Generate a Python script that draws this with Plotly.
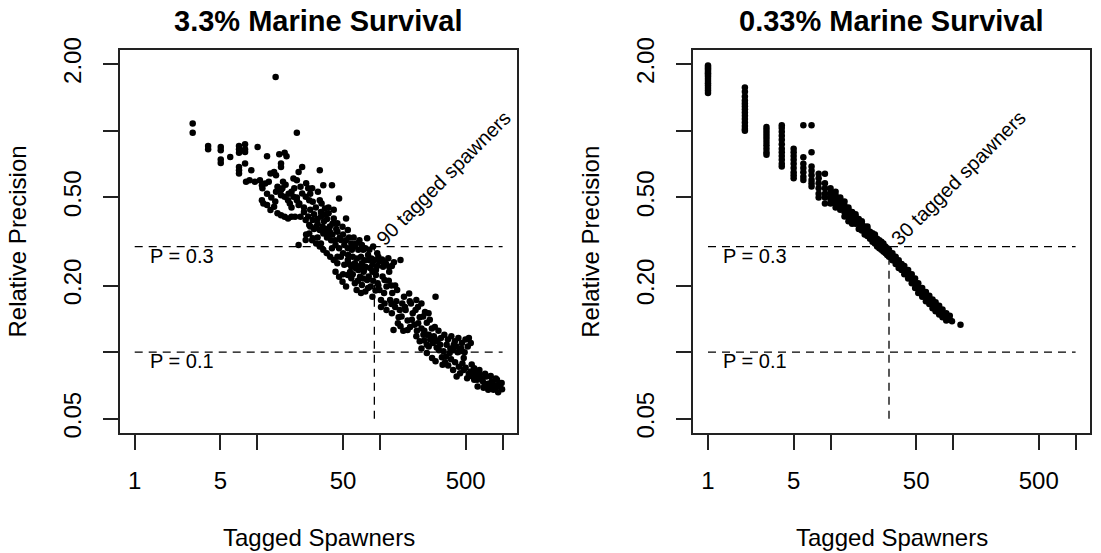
import math
import plotly.graph_objects as go

# ---------------- data ----------------
# 3.3% marine survival: (tagged spawners, relative precision)
s33_pts = [
    (2.97, 1.08), (2.97, 0.98), (14.1, 1.75), (21.0, 0.98),
    (3.97, 0.854), (3.97, 0.826), (5.03, 0.846), (5.03, 0.817), (7.09, 0.854), (7.09, 0.826),
    (7.94, 0.87), (7.94, 0.826), (10.05, 0.846), (5.03, 0.742), (5.03, 0.716), (6.01, 0.762),
    (7.09, 0.795), (7.94, 0.803), (12.0, 0.768), (15.1, 0.784), (16.7, 0.795), (17.3, 0.768),
    (15.6, 0.711), (7.09, 0.687), (7.09, 0.664), (7.09, 0.641), (7.94, 0.711), (8.93, 0.664),
    (8.09, 0.588), (8.64, 0.598), (9.55, 0.588), (10.5, 0.598), (10.9, 0.568), (11.6, 0.578),
    (12.4, 0.588), (12.8, 0.641), (13.7, 0.652), (14.2, 0.630), (15.6, 0.687), (16.2, 0.588),
    (14.6, 0.559), (15.6, 0.540), (23.2, 0.687), (32.3, 0.664), (21.7, 0.652), (19.7, 0.609),
    (21.0, 0.598), (10.9, 0.486), (11.2, 0.470), (12.0, 0.462), (12.8, 0.439), (13.7, 0.454),
    (14.6, 0.424), (15.6, 0.416), (16.7, 0.409), (17.8, 0.402), (19.0, 0.409), (20.3, 0.409),
    (14.2, 0.530), (15.6, 0.512), (16.7, 0.504), (17.8, 0.486), (18.4, 0.470), (19.0, 0.530),
    (19.7, 0.504), (21.0, 0.486), (21.7, 0.462), (22.5, 0.559), (23.2, 0.521), (24.8, 0.504),
    (26.5, 0.486), (28.3, 0.478), (34.5, 0.568), (40.6, 0.568), (46.4, 0.495), (31.2, 0.530),
    (32.3, 0.486), (33.4, 0.470), (35.6, 0.446), (38.1, 0.424), (22.5, 0.409), (24.8, 0.395),
    (26.5, 0.375), (28.3, 0.395), (30.2, 0.369), (32.3, 0.356), (34.5, 0.344), (38.1, 0.338),
    (42.0, 0.402), (44.9, 0.382), (49.5, 0.369), (52.9, 0.402), (54.7, 0.356),
    (21.7, 0.305), (24.8, 0.321), (26.5, 0.344), (28.3, 0.327), (30.2, 0.310), (32.3, 0.300),
    (34.5, 0.290), (36.8, 0.280), (39.3, 0.270), (40.6, 0.295), (43.4, 0.305), (46.4, 0.295),
    (48.0, 0.321), (51.2, 0.305), (54.7, 0.295), (58.4, 0.310), (62.4, 0.300), (66.6, 0.290),
    (71.2, 0.305), (76.0, 0.295), (78.6, 0.327), (42.0, 0.261), (44.9, 0.252), (48.0, 0.270),
    (51.2, 0.248), (54.7, 0.261), (58.4, 0.243), (62.4, 0.252), (66.6, 0.235), (71.2, 0.252),
    (76.0, 0.243), (81.2, 0.261), (86.8, 0.248), (92.7, 0.235), (99.0, 0.257), (106, 0.243),
    (117, 0.266), (119, 0.243), (119, 0.231), (147, 0.261),
    (43.4, 0.231), (46.4, 0.219), (49.5, 0.208), (52.9, 0.198), (54.7, 0.223), (58.4, 0.216),
    (62.4, 0.205), (64.5, 0.191), (68.8, 0.219), (71.2, 0.201), (76.0, 0.188), (78.6, 0.212),
    (84.0, 0.198), (86.8, 0.178), (92.7, 0.223), (95.8, 0.205), (99.0, 0.191), (102, 0.172),
    (109, 0.212), (113, 0.198), (86.8, 0.231), (73.6, 0.231),
    (102, 0.160), (109, 0.166), (113, 0.155), (121, 0.172), (125, 0.150), (133, 0.160),
    (138, 0.191), (142, 0.144), (152, 0.166), (157, 0.178), (162, 0.155), (168, 0.139),
    (173, 0.184), (179, 0.166), (185, 0.150), (198, 0.172), (204, 0.160), (211, 0.144),
    (218, 0.166), (233, 0.152), (241, 0.136), (129, 0.126), (147, 0.131), (168, 0.126),
    (191, 0.133), (218, 0.128), (249, 0.150), (284, 0.178),
    (198, 0.118), (211, 0.112), (226, 0.120), (241, 0.108), (257, 0.114), (275, 0.118),
    (294, 0.112), (314, 0.116), (335, 0.120), (358, 0.114), (382, 0.118), (408, 0.112),
    (436, 0.116), (466, 0.110), (498, 0.114), (531, 0.116),
    (218, 0.104), (241, 0.0992), (266, 0.0941), (284, 0.0909), (303, 0.102), (324, 0.0877),
    (346, 0.0957), (370, 0.0992), (395, 0.102), (422, 0.106), (450, 0.101), (482, 0.0941),
    (395, 0.0832), (422, 0.0776), (450, 0.0804), (482, 0.0832), (514, 0.0763), (549, 0.0818),
    (587, 0.0750), (606, 0.0790), (626, 0.0700), (669, 0.0763), (715, 0.0712), (739, 0.0776),
    (789, 0.0700), (815, 0.0737), (871, 0.0688), (900, 0.0750), (930, 0.0712), (982, 0.0725),
    (843, 0.0676), (764, 0.0676), (647, 0.0832), (587, 0.0847),
    # denser core of the cloud
    (36, 0.36), (37, 0.33), (39, 0.35), (41, 0.34), (43, 0.32), (45, 0.35), (47, 0.33),
    (50, 0.34), (53, 0.32), (56, 0.33), (59, 0.29), (61, 0.33), (64, 0.31), (68, 0.32),
    (73, 0.29), (82, 0.29), (88, 0.30), (95, 0.28),
    (45, 0.27), (50, 0.28), (55, 0.275), (60, 0.27), (65, 0.265), (70, 0.27), (75, 0.26),
    (80, 0.275), (85, 0.265), (90, 0.26), (97, 0.27), (104, 0.262), (110, 0.255), (56, 0.25),
    (63, 0.24), (69, 0.245), (74, 0.235), (83, 0.24), (95, 0.245), (112, 0.25), (125, 0.245),
    (130, 0.255),
    (50, 0.225), (57, 0.23), (60, 0.225), (66, 0.21), (73, 0.215), (81, 0.22), (88, 0.21),
    (97, 0.2), (105, 0.22), (118, 0.21), (124, 0.2), (108, 0.185), (92, 0.19), (80, 0.195),
    (70, 0.185), (126, 0.185), (133, 0.2),
    (124, 0.165), (136, 0.17), (145, 0.155), (150, 0.145), (160, 0.16), (175, 0.17),
    (182, 0.14), (195, 0.155), (205, 0.135), (225, 0.145), (230, 0.125), (255, 0.14),
    (265, 0.128), (140, 0.135), (155, 0.125), (176, 0.13), (200, 0.125), (240, 0.12),
    (280, 0.13), (300, 0.125),
    (230, 0.113), (250, 0.106), (270, 0.11), (290, 0.105), (310, 0.108), (330, 0.101),
    (350, 0.108), (375, 0.104), (400, 0.108), (430, 0.1), (460, 0.104), (490, 0.1),
    (520, 0.106), (550, 0.11), (250, 0.12), (280, 0.115),
    (320, 0.095), (340, 0.09), (360, 0.087), (380, 0.093), (410, 0.09), (440, 0.086),
    (470, 0.089), (500, 0.085), (530, 0.08), (560, 0.078), (600, 0.082), (650, 0.079),
    (690, 0.074), (720, 0.08), (760, 0.072), (800, 0.078), (850, 0.071), (880, 0.076),
    (950, 0.07), (990, 0.068), (620, 0.075), (560, 0.088), (700, 0.069), (920, 0.066),
    (24, 0.43), (26, 0.41), (27, 0.44), (29, 0.42), (31, 0.4), (33, 0.41), (35, 0.39),
    (37, 0.4), (39, 0.37), (41, 0.38), (44, 0.36), (30, 0.45), (33, 0.43), (36, 0.42),
    (38, 0.45), (42, 0.44), (27, 0.37), (29, 0.36), (31, 0.38), (34, 0.37), (36, 0.35),
    (25, 0.34), (28, 0.32), (31, 0.33), (33, 0.31), (40, 0.32),
    (11, 0.55), (12, 0.52), (13, 0.5), (14, 0.48), (16, 0.55), (17, 0.57), (18, 0.52),
    (20, 0.55), (21, 0.5), (19, 0.45), (22, 0.47), (24, 0.45), (26, 0.55), (27, 0.52),
    (25, 0.58), (28, 0.55),
]
s33_x = [p[0] for p in s33_pts]
s33_y = [p[1] for p in s33_pts]

# 0.33% marine survival: values stacked per number of tagged spawners
s033_cols = {
    1: [1.97, 1.94, 1.91, 1.88, 1.85, 1.82, 1.79, 1.76, 1.72, 1.68, 1.64, 1.60, 1.56, 1.52, 1.48],
    2: [1.57, 1.50, 1.43, 1.37, 1.33, 1.29, 1.25, 1.21, 1.17, 1.13, 1.09, 1.05, 1.02, 1.00],
    3: [1.04, 1.01, 0.98, 0.95, 0.92, 0.89, 0.86, 0.83, 0.80, 0.78],
    4: [1.06, 1.03, 0.99, 0.95, 0.91, 0.87, 0.83, 0.80, 0.77, 0.74, 0.71, 0.69],
    5: [0.83, 0.80, 0.77, 0.74, 0.71, 0.68, 0.65, 0.63, 0.61],
    6: [1.06, 0.76, 0.71, 0.68, 0.65, 0.62, 0.60],
    7: [1.06, 0.80, 0.69, 0.66, 0.63, 0.60, 0.58, 0.56],
    8: [0.64, 0.61, 0.58, 0.55, 0.52, 0.50],
    9: [0.64, 0.58, 0.55, 0.52, 0.50, 0.47],
    10: [0.55, 0.53, 0.51, 0.49, 0.47], 11: [0.53, 0.51, 0.49, 0.47, 0.45],
    12: [0.50, 0.49, 0.47, 0.45, 0.44], 13: [0.48, 0.46, 0.44, 0.43, 0.41],
    14: [0.45, 0.44, 0.42, 0.41, 0.39], 15: [0.43, 0.41, 0.39, 0.38],
    16: [0.42, 0.41, 0.40, 0.38], 17: [0.40, 0.38, 0.36], 18: [0.39, 0.38, 0.37, 0.355],
    19: [0.37, 0.355, 0.34], 20: [0.37, 0.36, 0.345, 0.335], 21: [0.35, 0.34, 0.325],
    22: [0.345, 0.33, 0.315], 23: [0.34, 0.335, 0.32, 0.31], 24: [0.325, 0.315, 0.30],
    25: [0.32, 0.31, 0.295], 26: [0.315, 0.30, 0.29], 27: [0.31, 0.295, 0.285],
    28: [0.30, 0.29, 0.28], 29: [0.295, 0.285, 0.275], 30: [0.29, 0.28, 0.27],
    32: [0.28, 0.27, 0.26], 34: [0.27, 0.26, 0.25], 36: [0.26, 0.25, 0.24],
    38: [0.25, 0.24, 0.235], 40: [0.245, 0.235, 0.225], 43: [0.235, 0.225, 0.215],
    46: [0.225, 0.215, 0.205], 49: [0.215, 0.205, 0.195], 52: [0.205, 0.195, 0.185],
    56: [0.195, 0.185, 0.178], 60: [0.187, 0.178, 0.17], 64: [0.18, 0.172, 0.165],
    68: [0.173, 0.165, 0.158], 72: [0.168, 0.16, 0.153], 77: [0.162, 0.155, 0.148],
    82: [0.156, 0.15, 0.144], 88: [0.15, 0.144, 0.139], 94: [0.146, 0.14], 98: [0.138],
    115: [0.133],
}
s033_x = [k for k, vals in s033_cols.items() for _ in vals]
s033_y = [v for vals in s033_cols.values() for v in vals]

panel_titles = ["3.3% Marine Survival", "0.33% Marine Survival"]
x_title = "Tagged Spawners"
y_title = "Relative Precision"
x_ticks = [1, 5, 10, 50, 100, 500, 1000]
x_ticklabels = ["1", "5", "", "50", "", "500", ""]
y_ticks = [0.05, 0.1, 0.2, 0.5, 1, 2]
y_ticklabels = ["0.05", "", "0.20", "0.50", "", "2.00"]
thresholds = [0.3, 0.1]
threshold_labels = ["P = 0.3", "P = 0.1"]
line_x = [1, 1000]
y_floor = 0.05
needed = [90, 30]          # tagged spawners needed for P = 0.3
needed_labels = ["90 tagged spawners", "30 tagged spawners"]
label_x = 2.44

# ---------------- layout ----------------
W, H = 1101, 553
FONT = "Liberation Sans, Arial, Helvetica, sans-serif"
boxes = [(120, 517.3), (693.3, 1090.3)]
top, bottom = 50, 433

fig = go.Figure()
series = [(s33_x, s33_y), (s033_x, s033_y)]
dash = "8px,6px"
for i, (xs, ys) in enumerate(series):
    xa = "x" if i == 0 else "x2"
    ya = "y" if i == 0 else "y2"
    fig.add_trace(go.Scatter(x=xs, y=ys, mode="markers", xaxis=xa, yaxis=ya,
                             marker=dict(size=6.5, color="black", line=dict(width=0)),
                             hoverinfo="skip", showlegend=False))
    for p in thresholds:
        fig.add_trace(go.Scatter(x=line_x, y=[p, p], mode="lines", xaxis=xa, yaxis=ya,
                                 line=dict(color="black", width=1.3, dash=dash),
                                 hoverinfo="skip", showlegend=False))
    fig.add_trace(go.Scatter(x=[needed[i], needed[i]], y=[y_floor, thresholds[0]], mode="lines",
                             xaxis=xa, yaxis=ya, line=dict(color="black", width=1.3, dash=dash),
                             hoverinfo="skip", showlegend=False))

axis_common = dict(type="log", showgrid=False, zeroline=False, showline=True, mirror=True,
                   linecolor="#222222", linewidth=1.8, ticks="outside", ticklen=15, tickwidth=1.8,
                   tickcolor="#222222", tickfont=dict(family=FONT, size=24, color="black"),
                   automargin=False)

layout = dict(width=W, height=H, autosize=False,
              margin=dict(l=0, r=0, t=0, b=0, pad=0, autoexpand=False),
              paper_bgcolor="white", plot_bgcolor="white", showlegend=False)
ydom = [(H - bottom) / H, (H - top) / H]
for i, (l, r) in enumerate(boxes):
    sfx = "" if i == 0 else "2"
    layout["xaxis" + sfx] = dict(axis_common, domain=[l / W, r / W], range=[-0.12, 3.12],
                                 tickvals=x_ticks, ticktext=x_ticklabels, tickangle=0,
                                 anchor="y" + sfx, ticklabelstandoff=10)
    layout["yaxis" + sfx] = dict(axis_common, domain=ydom, range=[-1.365, 0.365],
                                 tickvals=y_ticks, ticktext=y_ticklabels, tickangle=-90,
                                 anchor="x" + sfx, ticklabelstandoff=13)
fig.update_layout(**layout)

ann = []
for i, (l, r) in enumerate(boxes):
    cx = (l + r) / 2 / W
    xa = "x" if i == 0 else "x2"
    ya = "y" if i == 0 else "y2"
    ann.append(dict(text=panel_titles[i], x=cx, y=(H - 21) / H, xref="paper", yref="paper",
                    xanchor="center", yanchor="middle", showarrow=False,
                    font=dict(family=FONT, size=29, color="black", weight="bold")))
    ann.append(dict(text=x_title, x=cx, y=(H - 537) / H, xref="paper", yref="paper",
                    xanchor="center", yanchor="middle", showarrow=False,
                    font=dict(family=FONT, size=24, color="black")))
    ann.append(dict(text=y_title, x=(l - 103) / W, y=(H - (top + bottom) / 2) / H, xref="paper",
                    yref="paper", xanchor="center", yanchor="middle", textangle=-90,
                    showarrow=False, font=dict(family=FONT, size=24, color="black")))
    for p, lab in zip(thresholds, threshold_labels):
        ann.append(dict(text=lab, x=math.log10(label_x), y=math.log10(p), xref=xa, yref=ya,
                        xanchor="center", yanchor="middle", yshift=-9, showarrow=False,
                        font=dict(family=FONT, size=20, color="black")))
    ann.append(dict(text=needed_labels[i], x=math.log10(needed[i]), y=math.log10(thresholds[0]),
                    xref=xa, yref=ya, xanchor="center", yanchor="middle", textangle=-45,
                    xshift=69, yshift=69, showarrow=False,
                    font=dict(family=FONT, size=20, color="black")))
fig.update_layout(annotations=ann)
fig.write_html("out.html", config={"displayModeBar": False},
               post_script="document.body.style.margin='0px';document.body.style.overflow='hidden';")
